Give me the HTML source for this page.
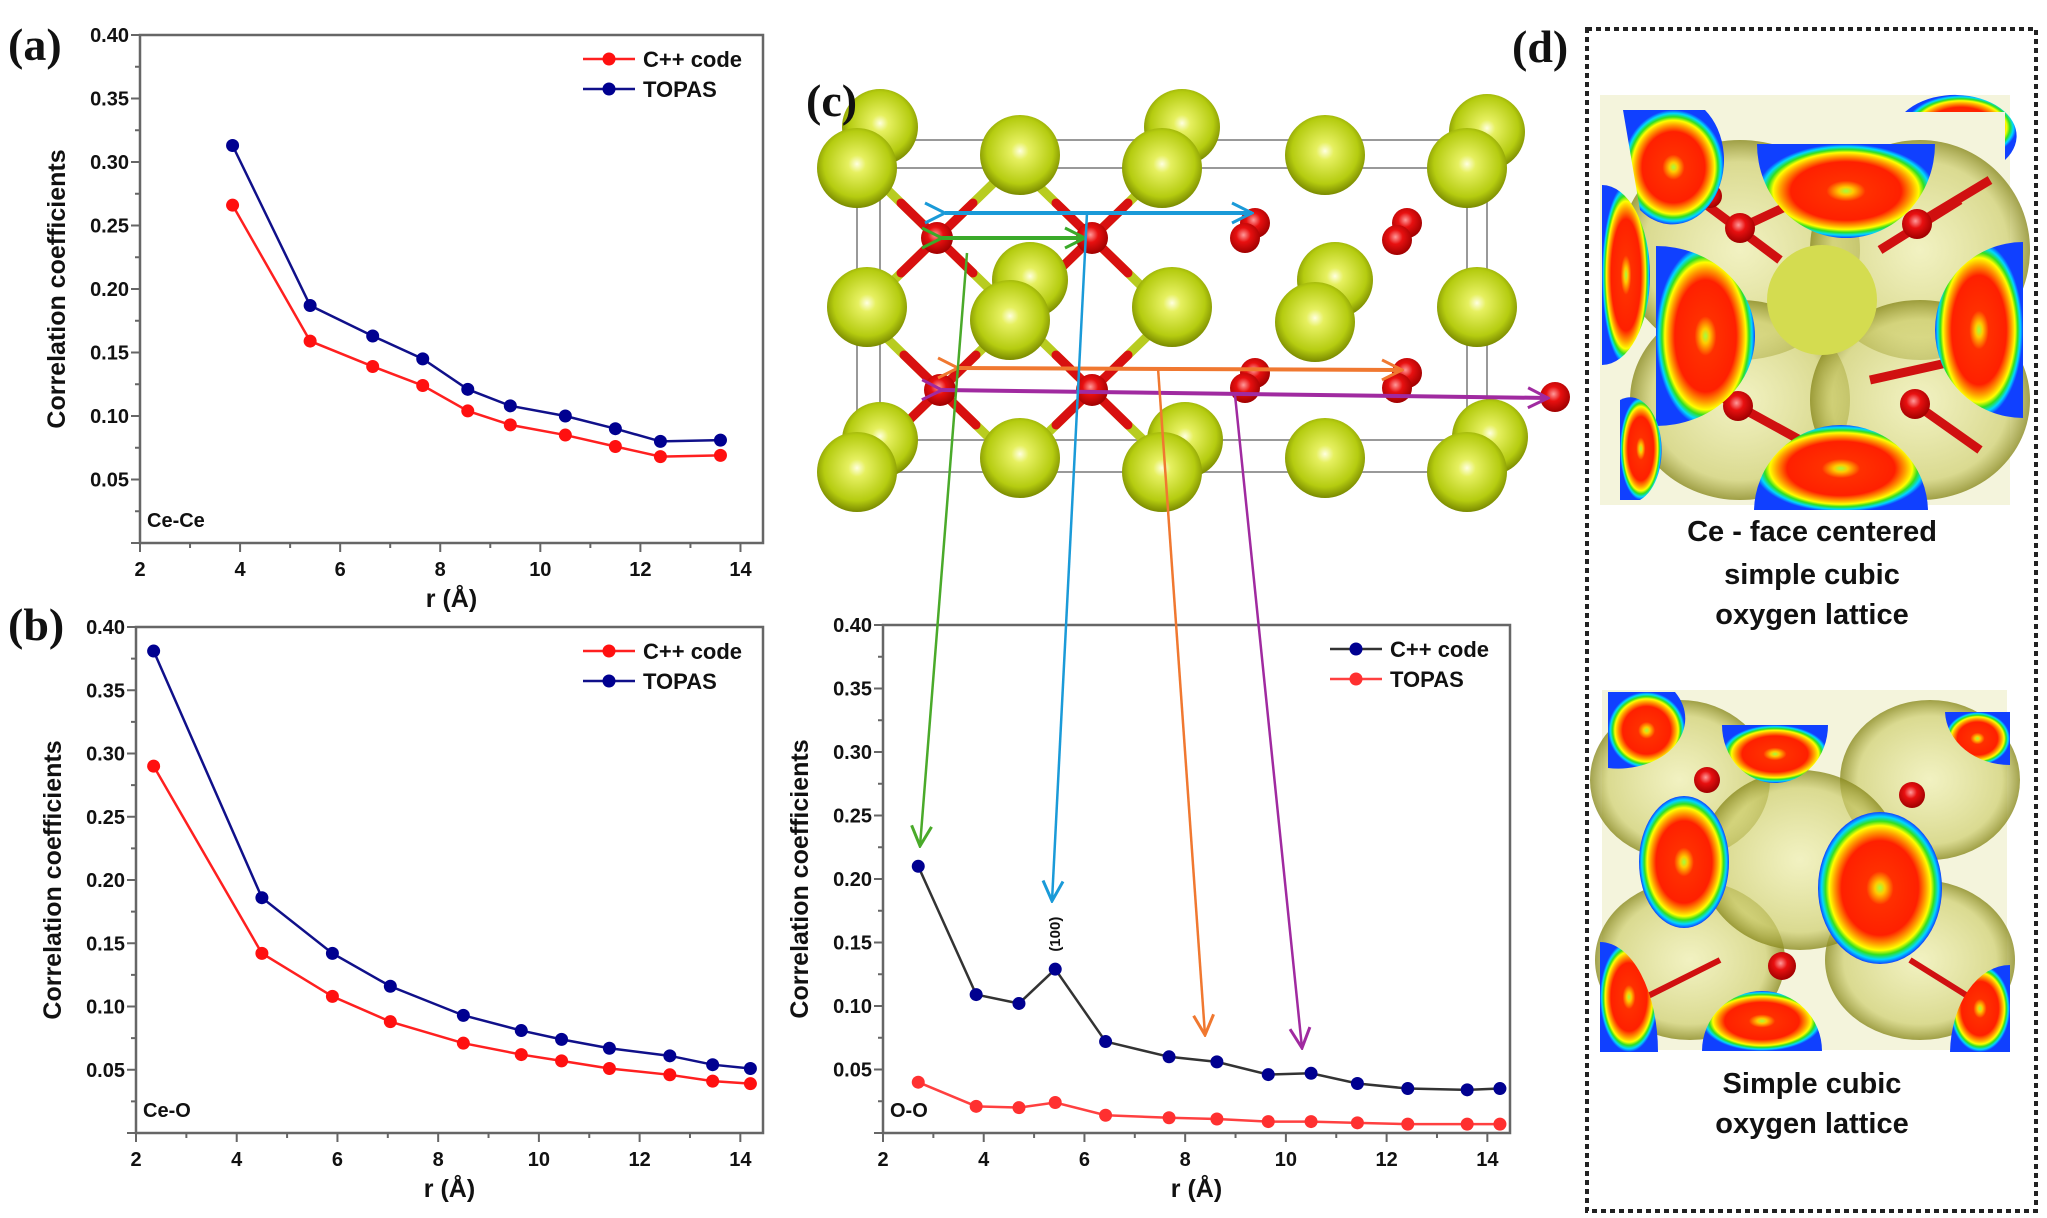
<!DOCTYPE html>
<html><head><meta charset="utf-8"><style>
html,body{margin:0;padding:0;background:#fff;}
svg{display:block;font-family:"Liberation Sans",Arial,sans-serif;}
.tk{font-size:20px;font-weight:bold;fill:#111;}
.ttl{font-size:25px;font-weight:bold;fill:#111;}
.lg{font-size:22px;font-weight:bold;fill:#111;}
.pl{font-family:"Liberation Serif",serif;font-size:46px;font-weight:bold;fill:#111;}
.dt{font-size:29px;font-weight:bold;fill:#111;text-anchor:middle;}
</style></head><body>
<svg id="fig" width="2047" height="1218" viewBox="0 0 2047 1218">
<defs>
<radialGradient id="ce" cx="0.5" cy="0.45" r="0.55">
<stop offset="0" stop-color="#ffffe0"/><stop offset="0.2" stop-color="#e6f060"/><stop offset="0.75" stop-color="#b5cc10"/><stop offset="1" stop-color="#7a8a00"/></radialGradient>
<radialGradient id="ox" cx="0.45" cy="0.4" r="0.6">
<stop offset="0" stop-color="#ff9a9a"/><stop offset="0.4" stop-color="#e81010"/><stop offset="1" stop-color="#a00000"/></radialGradient>
<radialGradient id="rb" cx="0.5" cy="0.5" r="0.5">
<stop offset="0" stop-color="#a0ff40"/><stop offset="0.08" stop-color="#ffcc00"/><stop offset="0.22" stop-color="#ff3000"/><stop offset="0.62" stop-color="#ff2000"/><stop offset="0.74" stop-color="#ffa000"/><stop offset="0.82" stop-color="#ffff00"/><stop offset="0.88" stop-color="#30e020"/><stop offset="0.94" stop-color="#00d8ff"/><stop offset="1" stop-color="#1040ff"/></radialGradient>
<radialGradient id="ol" cx="0.5" cy="0.5" r="0.5">
<stop offset="0" stop-color="#f0f0b0" stop-opacity="0.6"/><stop offset="0.8" stop-color="#cfcf70" stop-opacity="0.7"/><stop offset="1" stop-color="#8a8a20" stop-opacity="0.8"/></radialGradient>
<marker id="mh" markerWidth="24" markerHeight="24" refX="22" refY="12" orient="auto" markerUnits="userSpaceOnUse"><path d="M2,2 L22,12 L2,22" fill="none" stroke="context-stroke" stroke-width="3"/></marker>
</defs>

<!-- panel labels -->
<text class="pl" x="8" y="60">(a)</text>
<text class="pl" x="8" y="640">(b)</text>
<text class="pl" x="1512" y="62">(d)</text>

<g id="chartA"></g>
<g id="chartB"></g>
<g id="chartC"></g>

<!-- crystal structure -->
<g id="crystal">
<g stroke="#999" stroke-width="2" fill="none">
<rect x="857" y="168" width="610" height="304"/>
<rect x="880" y="140" width="607" height="300"/>
<line x1="857" y1="168" x2="880" y2="140"/><line x1="1467" y1="168" x2="1487" y2="140"/>
<line x1="857" y1="472" x2="880" y2="440"/><line x1="1467" y1="472" x2="1487" y2="440"/>
</g>
<g id="bonds" stroke-width="9" stroke-linecap="round"></g>
<g id="atoms"></g>
<g stroke-width="4" fill="none">
<line x1="945" y1="213" x2="1252" y2="213" stroke="#1a9ad8" marker-end="url(#mh)" marker-start="url(#mh)"/>
<line x1="942" y1="238" x2="1085" y2="238" stroke="#3aaa2a" marker-end="url(#mh)" marker-start="url(#mh)"/>
<line x1="958" y1="368" x2="1402" y2="370" stroke="#f07830" marker-end="url(#mh)" marker-start="url(#mh)"/>
<line x1="942" y1="390" x2="1548" y2="398" stroke="#a02aa0" marker-end="url(#mh)" marker-start="url(#mh)"/>
</g>
<g stroke-width="2.5" fill="none">
<line x1="967" y1="253" x2="920" y2="846" stroke="#4aaa2a" marker-end="url(#mh)"/>
<line x1="1087" y1="213" x2="1052" y2="901" stroke="#1a9ad8" marker-end="url(#mh)"/>
<line x1="1158" y1="368" x2="1205" y2="1035" stroke="#f07830" marker-end="url(#mh)"/>
<line x1="1235" y1="395" x2="1302" y2="1048" stroke="#a02aa0" marker-end="url(#mh)"/>
</g>
</g>
<text class="pl" x="806" y="116">(c)</text>

<!-- panel d -->
<g>
<rect x="1587" y="29" width="449" height="1182" fill="none" stroke="#222" stroke-width="4" stroke-dasharray="5,4"/>
<g>
<rect x="1600" y="95" width="410" height="410" fill="#f4f4dc"/>
<ellipse cx="1740" cy="250" rx="120" ry="110" fill="url(#ol)"/>
<ellipse cx="1920" cy="250" rx="110" ry="110" fill="url(#ol)"/>
<ellipse cx="1740" cy="400" rx="110" ry="100" fill="url(#ol)"/>
<ellipse cx="1920" cy="400" rx="110" ry="100" fill="url(#ol)"/>
<circle cx="1822" cy="300" r="55" fill="#d4dc50"/>
<g stroke="#d01010" stroke-width="9"><line x1="1700" y1="200" x2="1780" y2="260"/><line x1="1740" y1="228" x2="1800" y2="200"/><line x1="1917" y1="224" x2="1990" y2="180"/><line x1="1880" y1="250" x2="1960" y2="200"/><line x1="1738" y1="406" x2="1800" y2="440"/><line x1="1690" y1="380" x2="1738" y2="406"/><line x1="1915" y1="404" x2="1980" y2="450"/><line x1="1870" y1="380" x2="1960" y2="360"/></g>
<circle cx="1740" cy="228" r="15" fill="url(#ox)"/><circle cx="1710" cy="196" r="12" fill="url(#ox)"/><circle cx="1917" cy="224" r="15" fill="url(#ox)"/><circle cx="1738" cy="406" r="15" fill="url(#ox)"/><circle cx="1915" cy="404" r="15" fill="url(#ox)"/>
<clipPath id="c1"><rect x="1600" y="90" width="425" height="420"/></clipPath>
<g clip-path="url(#c1)">
<path d="M1757,144 A89,94 0 0 0 1935,144 Z" fill="url(#rb)"/>
<path d="M1656,246 A99,90 0 0 1 1656,426 Z" fill="url(#rb)"/>
<path d="M2023,242 A88,88 0 0 0 2023,418 Z" fill="url(#rb)"/>
<path d="M1754,512 A87,87 0 0 1 1928,512 Z" fill="url(#rb)"/>
<path d="M1623,110 L1705,110 A40,50 0 0 1 1640,210 Z" fill="url(#rb)"/>
<path d="M1602,185 A48,90 0 0 1 1602,365 Z" fill="url(#rb)"/>
<path d="M1620,400 A30,50 0 0 1 1640,500 L1620,500 Z" fill="url(#rb)"/>
<path d="M1905,112 L2005,112 L2005,160 A60,40 0 0 0 1905,112 Z" fill="url(#rb)"/>
</g>
</g>
<text class="dt" x="1812" y="541">Ce - face centered</text>
<text class="dt" x="1812" y="584">simple cubic</text>
<text class="dt" x="1812" y="624">oxygen lattice</text>
<g>
<rect x="1602" y="690" width="405" height="360" fill="#f4f4dc"/>
<ellipse cx="1680" cy="780" rx="90" ry="80" fill="url(#ol)"/><ellipse cx="1930" cy="780" rx="90" ry="80" fill="url(#ol)"/>
<ellipse cx="1690" cy="960" rx="95" ry="80" fill="url(#ol)"/><ellipse cx="1920" cy="960" rx="95" ry="80" fill="url(#ol)"/>
<ellipse cx="1800" cy="860" rx="100" ry="90" fill="url(#ol)"/>
<circle cx="1707" cy="780" r="13" fill="url(#ox)"/><circle cx="1912" cy="795" r="13" fill="url(#ox)"/><circle cx="1782" cy="966" r="14" fill="url(#ox)"/>
<line x1="1640" y1="1000" x2="1720" y2="960" stroke="#d01010" stroke-width="6"/><line x1="1910" y1="960" x2="1990" y2="1010" stroke="#d01010" stroke-width="6"/>
<clipPath id="c2"><rect x="1600" y="685" width="410" height="370"/></clipPath>
<g clip-path="url(#c2)">
<ellipse cx="1684" cy="862" rx="45" ry="66" fill="url(#rb)"/>
<ellipse cx="1880" cy="888" rx="62" ry="76" fill="url(#rb)"/>
<path d="M1722,725 A53,58 0 0 0 1828,725 Z" fill="url(#rb)"/>
<path d="M1702,1051 A60,60 0 0 1 1822,1051 Z" fill="url(#rb)"/>
<path d="M1608,692 L1675,692 A67,50 0 0 1 1608,768 Z" fill="url(#rb)"/>
<path d="M1945,712 L2010,712 L2010,765 A65,55 0 0 1 1945,712 Z" fill="url(#rb)"/>
<path d="M1600,942 A58,110 0 0 1 1658,1052 L1600,1052 Z" fill="url(#rb)"/>
<path d="M2010,965 A60,90 0 0 0 1950,1052 L2010,1052 Z" fill="url(#rb)"/>
</g>
</g>
<text class="dt" x="1812" y="1093">Simple cubic</text>
<text class="dt" x="1812" y="1133">oxygen lattice</text>
</g>
</svg>
<script>
// ---- chart data ----
const aX=[3.85,5.4,6.65,7.65,8.55,9.4,10.5,11.5,12.4,13.6];
const aCpp=[0.266,0.159,0.139,0.124,0.104,0.093,0.085,0.076,0.068,0.069];
const aTopas=[0.313,0.187,0.163,0.145,0.121,0.108,0.100,0.090,0.080,0.081];
const bX=[2.35,4.5,5.9,7.05,8.5,9.65,10.45,11.4,12.6,13.45,14.2];
const bCpp=[0.290,0.142,0.108,0.088,0.071,0.062,0.057,0.051,0.046,0.041,0.039];
const bTopas=[0.381,0.186,0.142,0.116,0.093,0.081,0.074,0.067,0.061,0.054,0.051];
const cX=[2.7,3.85,4.7,5.42,6.42,7.68,8.63,9.65,10.5,11.42,12.42,13.6,14.25];
const cCpp=[0.210,0.109,0.102,0.129,0.072,0.060,0.056,0.046,0.047,0.039,0.035,0.034,0.035];
const cTopas=[0.040,0.021,0.020,0.024,0.014,0.012,0.011,0.009,0.009,0.008,0.007,0.007,0.007];
const yTickLabels=['0.05','0.10','0.15','0.20','0.25','0.30','0.35','0.40'];
const xTickLabels=['2','4','6','8','10','12','14'];

const NS='http://www.w3.org/2000/svg';
function mk(tag,attrs,parent){const e=document.createElementNS(NS,tag);for(const k in attrs)e.setAttribute(k,attrs[k]);parent.appendChild(e);return e;}

function drawChart(g,box,xs,series,tag){
  const sx=v=>box.l+(v-2)/(box.xmax-2)*(box.r-box.l);
  const sy=v=>box.b-(v-0)/(0.4)*(box.b-box.t);
  const frame=mk('rect',{x:box.l,y:box.t,width:box.r-box.l,height:box.b-box.t,fill:'none',stroke:'#666','stroke-width':2.5},g);
  
  
  for(let i=0;i<=16;i++){const v=i*0.025;const y=sy(v);const L=(i%2===0)?9:5;
    const t=mk('line',{x1:box.l-L,y1:y,x2:box.l,y2:y,stroke:'#666','stroke-width':2},g);
    
    }
  yTickLabels.forEach(s=>{const v=parseFloat(s);
    const t=mk('text',{x:box.l-11,y:sy(v)+7,'text-anchor':'end',class:'tk'},g);t.textContent=s;
    
    });
  for(let v=2;v<=14;v++){const x=sx(v);const L=(v%2===0)?9:5;
    const t=mk('line',{x1:x,y1:box.b,x2:x,y2:box.b+L,stroke:'#666','stroke-width':2},g);
    
    }
  xTickLabels.forEach(s=>{const v=parseFloat(s);
    const t=mk('text',{x:sx(v),y:box.b+33,'text-anchor':'middle',class:'tk'},g);t.textContent=s;
    
    });
  const xt=mk('text',{x:(box.l+box.r)/2,y:box.b+64,'text-anchor':'middle',class:'ttl'},g);xt.textContent='r (Å)';
  
  
  const cy=(box.t+box.b)/2;
  const yt=mk('text',{x:0,y:0,'text-anchor':'middle',class:'ttl',transform:`translate(${box.l-75},${cy}) rotate(-90)`},g);yt.textContent='Correlation coefficients';
  
  
  const tg=mk('text',{x:box.l+7,y:box.b-16,class:'tk'},g);tg.textContent=tag;
  
  
  series.forEach((s,si)=>{
    const pts=xs.map((x,i)=>sx(x)+','+sy(s.vals[i])).join(' ');
    const pl=mk('polyline',{points:pts,fill:'none',stroke:s.line,'stroke-width':2.5},g);
    
    
    xs.forEach((x,i)=>{const c=mk('circle',{cx:sx(x),cy:sy(s.vals[i]),r:6.5,fill:s.pt},g);
      
      });
    const ly=box.t+24+si*30;const lx=box.r-180;
    const ll=mk('line',{x1:lx,y1:ly,x2:lx+52,y2:ly,stroke:s.line,'stroke-width':2.5},g);
    
    
    const lc=mk('circle',{cx:lx+26,cy:ly,r:6.5,fill:s.pt},g);
    
    
    const lt=mk('text',{x:lx+60,y:ly+8,class:'lg'},g);lt.textContent=s.name;
    
    
  });
  return {sx,sy};
}
drawChart(document.getElementById('chartA'),{l:140,r:763,t:35,b:543,xmax:14.45},aX,
 [{key:'cpp',name:'C++ code',vals:aCpp,line:'#ff2020',pt:'#ff1010'},{key:'topas',name:'TOPAS',vals:aTopas,line:'#10108a',pt:'#000090'}],'Ce-Ce');
drawChart(document.getElementById('chartB'),{l:136,r:763,t:627,b:1133,xmax:14.45},bX,
 [{key:'cpp',name:'C++ code',vals:bCpp,line:'#ff2020',pt:'#ff1010'},{key:'topas',name:'TOPAS',vals:bTopas,line:'#10108a',pt:'#000090'}],'Ce-O');
const cs=drawChart(document.getElementById('chartC'),{l:883,r:1510,t:625,b:1133,xmax:14.45},cX,
 [{key:'cpp',name:'C++ code',vals:cCpp,line:'#333333',pt:'#000090'},{key:'topas',name:'TOPAS',vals:cTopas,line:'#ff4040',pt:'#ff3030'}],'O-O');
const ann=mk('text',{x:0,y:0,'font-size':'15','font-weight':'bold',fill:'#111','text-anchor':'middle',transform:`translate(${cs.sx(cX[3])+5},${cs.sy(cCpp[3])-35}) rotate(-90)`},document.getElementById('chartC'));
ann.textContent='(100)';



// ---- crystal atoms ----
const ceBack=[[880,127],[1182,127],[1487,132],[1030,280],[1335,280],[880,440],[1185,440],[1490,437]];
const ceFront=[[857,168],[1020,155],[1162,168],[1325,155],[1467,168],[867,307],[1010,320],[1172,307],[1315,322],[1477,307],[857,472],[1020,458],[1162,472],[1325,458],[1467,472]];
const oBonded=[[937,238],[1092,238],[940,390],[1092,390]];
const oFree=[[1255,223],[1245,238],[1407,223],[1397,240],[1255,373],[1245,388],[1407,373],[1397,388],[1555,397]];
const atoms=document.getElementById('atoms'),bonds=document.getElementById('bonds');
oBonded.forEach(o=>{[[-1,-1],[1,-1],[-1,1],[1,1]].forEach(d=>{
  const b=mk('line',{x1:o[0],y1:o[1],x2:o[0]+d[0]*72,y2:o[1]+d[1]*70,stroke:'#b8cc20'},bonds);
  
  
  const r=mk('line',{x1:o[0],y1:o[1],x2:o[0]+d[0]*36,y2:o[1]+d[1]*35,stroke:'#d81010'},bonds);
  
  });});
ceBack.forEach(p=>{const c=mk('circle',{cx:p[0],cy:p[1],r:38,fill:'url(#ce)'},atoms);
  
  });
oBonded.forEach(p=>{const c=mk('circle',{cx:p[0],cy:p[1],r:16,fill:'url(#ox)'},atoms);
  
  });
ceFront.forEach(p=>{const c=mk('circle',{cx:p[0],cy:p[1],r:40,fill:'url(#ce)'},atoms);
  
  });
oFree.forEach(p=>{const c=mk('circle',{cx:p[0],cy:p[1],r:15,fill:'url(#ox)'},atoms);
  
  });
</script>
</body></html>
